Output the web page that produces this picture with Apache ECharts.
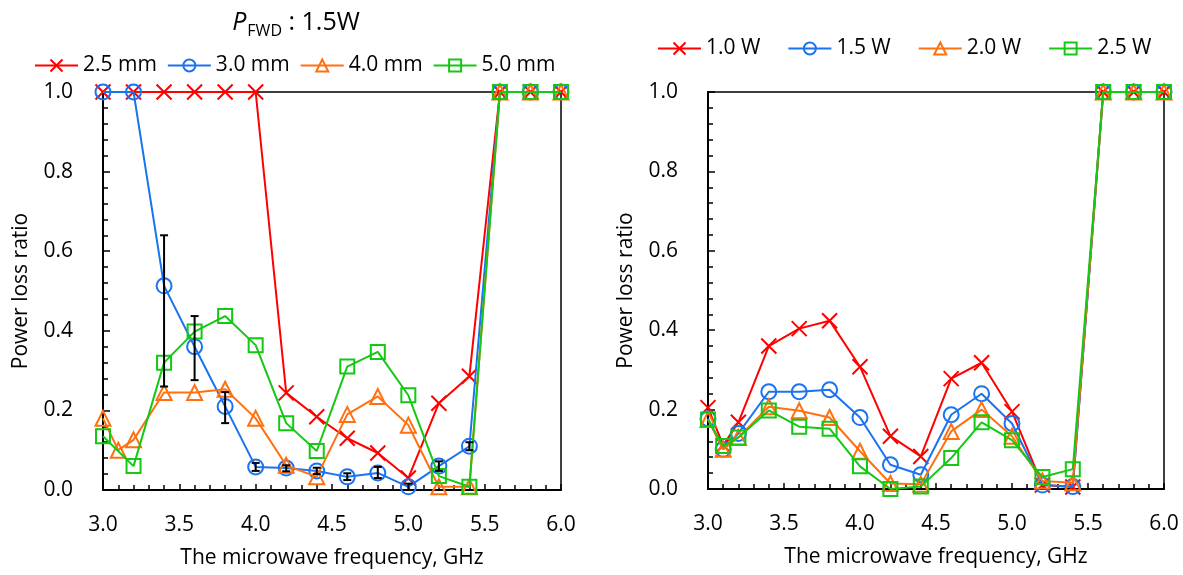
<!DOCTYPE html>
<html>
<head>
<meta charset="utf-8">
<script src="https://cdn.jsdelivr.net/npm/echarts@6/dist/echarts.min.js"></script>
<style>
html,body{margin:0;padding:0;background:#fff;}
#c{width:1183px;height:575px;}
</style>
</head>
<body>
<div id="c"></div>
<script>
// ---- data ----
const freq = [3.0, 3.1, 3.2, 3.4, 3.6, 3.8, 4.0, 4.2, 4.4, 4.6, 4.8, 5.0, 5.2, 5.4, 5.6, 5.8, 6.0];

// Left panel: gap size (P_FWD = 1.5 W)
const leftNames = ['2.5 mm', '3.0 mm', '4.0 mm', '5.0 mm'];
const gap25 = [1.0, null, 1.0, 1.0, 1.0, 1.0, 1.0, 0.244, 0.184, 0.13, 0.093, 0.03, 0.218, 0.286, 1.0, 1.0, 1.0];
const gap30 = [1.0, null, 1.0, 0.513, 0.36, 0.21, 0.058, 0.055, 0.048, 0.033, 0.043, 0.008, 0.06, 0.11, 1.0, 1.0, 1.0];
const gap40 = [0.18, 0.10, 0.126, 0.245, 0.245, 0.253, 0.18, 0.062, 0.033, 0.19, 0.235, 0.163, 0.008, 0.008, 1.0, 1.0, 1.0];
const gap50 = [0.135, null, 0.06, 0.32, 0.398, 0.437, 0.364, 0.168, 0.098, 0.31, 0.347, 0.238, 0.035, 0.008, 1.0, 1.0, 1.0];
// error bars for 3.0 mm
const gap30Low  = [null, null, null, 0.26, 0.276, 0.168, 0.048, 0.047, 0.040, 0.025, 0.030, 0.0, 0.048, 0.10, null, null, null];
const gap30High = [null, null, null, 0.64, 0.437, 0.246, 0.068, 0.062, 0.056, 0.042, 0.058, 0.016, 0.072, 0.12, null, null, null];

// Right panel: forward power
const rightNames = ['1.0 W', '1.5 W', '2.0 W', '2.5 W'];
const pw10 = [0.205, 0.11, 0.168, 0.36, 0.404, 0.424, 0.308, 0.133, 0.082, 0.278, 0.318, 0.195, 0.01, 0.005, 1.0, 1.0, 1.0];
const pw15 = [0.177, 0.10, 0.14, 0.245, 0.245, 0.25, 0.18, 0.061, 0.036, 0.187, 0.24, 0.165, 0.01, 0.006, 1.0, 1.0, 1.0];
const pw20 = [0.175, 0.10, 0.13, 0.207, 0.197, 0.18, 0.095, 0.014, 0.012, 0.145, 0.20, 0.133, 0.02, 0.016, 1.0, 1.0, 1.0];
const pw25 = [0.175, 0.108, 0.13, 0.198, 0.157, 0.152, 0.057, 0.0, 0.006, 0.078, 0.168, 0.123, 0.03, 0.05, 1.0, 1.0, 1.0];

const xTitle = 'The microwave frequency, GHz';
const yTitle = 'Power loss ratio';

// ---- styling ----
const FONT = 'Open Sans';
const colors = ['#FF0000', '#1A73F0', '#FF7010', '#14C814'];
const symbols = [
  'path://M0,0L10,10M10,0L0,10',
  'circle',
  'triangle',
  'rect'
];
const symSizes = [15, 15, 15, 14];

function pairs(vals) {
  return freq.map((f, i) => vals[i] == null ? null : [f, vals[i]]).filter(d => d !== null);
}

function mkSeries(name, vals, idx, axisIdx) {
  return {
    name: name,
    type: 'line',
    xAxisIndex: axisIdx,
    yAxisIndex: axisIdx,
    data: pairs(vals),
    symbol: symbols[idx],
    symbolSize: symSizes[idx],
    showAllSymbol: true,
    clip: false,
    lineStyle: { color: colors[idx], width: 2 },
    itemStyle: { color: idx === 0 ? colors[idx] : 'rgba(255,255,255,0)', borderColor: colors[idx], borderWidth: 2 },
    emphasis: { disabled: true },
    animation: false,
    z: 2 + idx
  };
}

function xAxisCfg(gridIndex) {
  return {
    gridIndex: gridIndex,
    type: 'value', min: 3, max: 6, interval: 0.5,
    name: xTitle, nameLocation: 'middle', nameGap: 58,
    nameTextStyle: { fontFamily: FONT, fontSize: 21, color: '#000' },
    axisLine: { show: true, lineStyle: { color: '#000', width: 2 } },
    axisTick: { show: true, inside: true, length: 6, lineStyle: { color: '#000', width: 1.5 } },
    minorTick: { show: true, splitNumber: 5, length: 5, lineStyle: { color: '#000', width: 1.5 } },
    splitLine: { show: false },
    axisLabel: { fontFamily: FONT, fontSize: 21, color: '#000', margin: 25, formatter: v => v.toFixed(1) }
  };
}
function yAxisCfg(gridIndex) {
  return {
    gridIndex: gridIndex,
    type: 'value', min: 0, max: 1, interval: 0.2,
    name: yTitle, nameLocation: 'middle', nameGap: 71, nameRotate: 90,
    nameTextStyle: { fontFamily: FONT, fontSize: 21, color: '#000' },
    axisLine: { show: true, lineStyle: { color: '#000', width: 2 } },
    axisTick: { show: true, inside: true, length: 7, lineStyle: { color: '#000', width: 1.5 } },
    minorTick: { show: true, splitNumber: 5, length: 5, lineStyle: { color: '#000', width: 1.5 } },
    splitLine: { show: false },
    axisLabel: { fontFamily: FONT, fontSize: 21, color: '#000', margin: 30, formatter: v => v.toFixed(1) }
  };
}

const errData = freq.map((f, i) => gap30Low[i] == null ? null : [f, gap30Low[i], gap30High[i]]).filter(d => d !== null);

const chart = echarts.init(document.getElementById('c'), null, { renderer: 'canvas' });
chart.setOption({
  animation: false,
  backgroundColor: '#fff',
  title: {
    text: '{p|P}{sub|FWD}{n| : 1.5W}',
    left: 291, top: 2, textAlign: 'center',
    textStyle: {
      fontWeight: 'normal',
      rich: {
        p: { fontFamily: FONT, fontSize: 25, fontStyle: 'italic', fontWeight: 'normal', color: '#000' },
        sub: { fontFamily: FONT, fontSize: 16, fontWeight: 'normal', color: '#000', padding: [16, 0, 0, 1] },
        n: { fontFamily: FONT, fontSize: 25, fontWeight: 'normal', color: '#000' }
      }
    }
  },
  legend: [
    {
      data: leftNames, left: 29, top: 50, itemWidth: 43, itemHeight: 15, itemGap: 10,
      textStyle: { fontFamily: FONT, fontSize: 21, color: '#000' }
    },
    {
      data: rightNames, left: 652, top: 33, itemWidth: 43, itemHeight: 15, itemGap: 27,
      textStyle: { fontFamily: FONT, fontSize: 21, color: '#000' }
    }
  ],
  grid: [
    { left: 103, right: 622, top: 92, bottom: 85, show: true, borderColor: '#000', borderWidth: 1.5, backgroundColor: 'transparent' },
    { left: 708, right: 19, top: 92, bottom: 86, show: true, borderColor: '#000', borderWidth: 1.5, backgroundColor: 'transparent' }
  ],
  xAxis: [xAxisCfg(0), xAxisCfg(1)],
  yAxis: [yAxisCfg(0), yAxisCfg(1)],
  series: [
    mkSeries(leftNames[0], gap25, 0, 0),
    mkSeries(leftNames[1], gap30, 1, 0),
    mkSeries(leftNames[2], gap40, 2, 0),
    mkSeries(leftNames[3], gap50, 3, 0),
    {
      type: 'custom', xAxisIndex: 0, yAxisIndex: 0, data: errData, z: 10, silent: true,
      renderItem: function (params, api) {
        const x = api.value(0);
        const lo = api.coord([x, api.value(1)]);
        const hi = api.coord([x, api.value(2)]);
        const w = 4;
        const st = { stroke: '#000', lineWidth: 2 };
        return {
          type: 'group', children: [
            { type: 'line', shape: { x1: lo[0], y1: lo[1], x2: hi[0], y2: hi[1] }, style: st },
            { type: 'line', shape: { x1: lo[0] - w, y1: lo[1], x2: lo[0] + w, y2: lo[1] }, style: st },
            { type: 'line', shape: { x1: hi[0] - w, y1: hi[1], x2: hi[0] + w, y2: hi[1] }, style: st }
          ]
        };
      }
    },
    mkSeries(rightNames[0], pw10, 0, 1),
    mkSeries(rightNames[1], pw15, 1, 1),
    mkSeries(rightNames[2], pw20, 2, 1),
    mkSeries(rightNames[3], pw25, 3, 1)
  ]
});
</script>
</body>
</html>
